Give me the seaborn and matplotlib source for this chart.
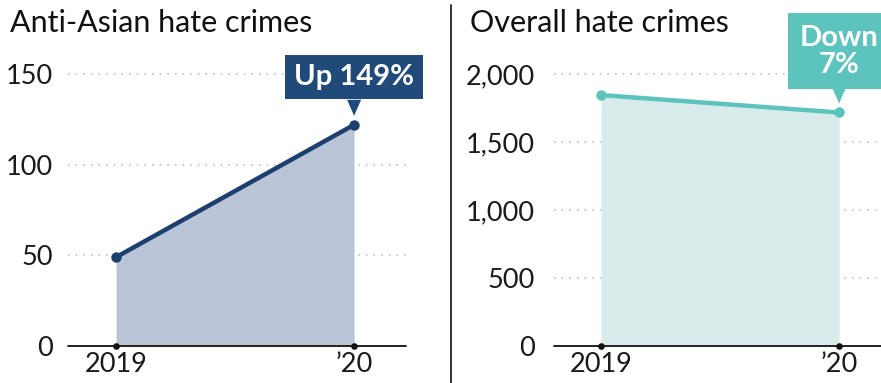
import matplotlib
matplotlib.use("Agg")
import matplotlib.pyplot as plt
import matplotlib.transforms as mtransforms
from matplotlib.patches import Polygon
import seaborn as sns
import pandas as pd

# ---- data ----
years = [2019, 2020]
year_labels = ["2019", "\u201920"]
asian_values = [49, 122]
overall_values = [1845, 1717]
asian_ticks = [0, 50, 100, 150]
overall_ticks = [0, 500, 1000, 1500, 2000]
asian_title = "Anti-Asian hate crimes"
overall_title = "Overall hate crimes"
asian_note = "Up 149%"
overall_note = "Down\n7%"

sns.set_theme(style="white")
plt.rcParams["font.family"] = ["Lato", "DejaVu Sans"]

DPI = 100
fig = plt.figure(figsize=(8.81, 3.83), dpi=DPI)

W, H = 881, 383
def ax_rect(x0, x1, y_top, y_bot):
    return [x0 / W, (H - y_bot) / H, (x1 - x0) / W, (y_bot - y_top) / H]

ax1 = fig.add_axes(ax_rect(68, 406, 74, 346))
ax2 = fig.add_axes(ax_rect(554, 881, 74, 346))

def draw_panel(ax, values, ticks, line_c, fill_c, xlim, fmt, note, note_c, note_off, pad, boxpad, lsp):
    df = pd.DataFrame({"year": years, "value": values})
    ax.fill_between(df["year"], 0, df["value"], color=fill_c, lw=0, zorder=1)
    sns.lineplot(data=df, x="year", y="value", ax=ax, color=line_c, lw=3.2,
                 marker="o", markersize=7.5, markeredgewidth=0, zorder=4, clip_on=False)
    ax.set_xlim(*xlim)
    ax.set_ylim(ticks[0], ticks[-1])
    ax.set_yticks(ticks)
    ax.set_yticklabels([fmt(t) for t in ticks], fontsize=19.5, fontweight="normal", color="#1a1a1a")
    ax.set_xticks(years)
    ax.set_xticklabels(year_labels, fontsize=19.5, fontweight="normal", color="#1a1a1a")
    ax.tick_params(axis="y", length=0, pad=pad)
    ax.tick_params(axis="x", length=0, pad=4)
    ax.set_xlabel("")
    ax.set_ylabel("")
    for s in ["top", "right", "left", "bottom"]:
        ax.spines[s].set_visible(False)
    for t in ticks[1:]:
        ax.axhline(t, color="#b5b5b5", lw=1.1, ls=(0, (1, 4)), zorder=0.5, clip_on=False)
    ax.axhline(0, color="#222222", lw=1.4, zorder=3, clip_on=False)
    ax.scatter(years, [0, 0], s=14, color="#111111", zorder=5, clip_on=False)
    ax.patch.set_alpha(0)
    # annotation box above last point
    xl, yl = years[-1], values[-1]
    ax.annotate(note, xy=(xl, yl), xytext=(0, note_off), textcoords="offset points",
                ha="center", va="bottom", fontsize=21, fontweight="bold", color="white",
                linespacing=lsp, annotation_clip=False, zorder=6,
                bbox=dict(boxstyle=f"square,pad={boxpad}", fc=note_c, ec="none"))
    trans = fig.dpi_scale_trans + mtransforms.ScaledTranslation(xl, yl, ax.transData)
    tri = Polygon([(-7 / DPI, 25 / DPI), (7 / DPI, 25 / DPI), (0, 9 / DPI)],
                  closed=True, transform=trans, fc=note_c, ec="none", zorder=6, clip_on=False)
    ax.add_patch(tri)

draw_panel(ax1, asian_values, asian_ticks, "#1c3f6e", "#b9c5d7",
           (2018.798, 2020.218), lambda t: f"{t:,}", asian_note, "#1f4a7a", 25, 11, 0.32, 1.0)
draw_panel(ax2, overall_values, overall_ticks, "#5cc3bd", "#d6ebea",
           (2018.8025, 2020.176), lambda t: f"{t:,}", overall_note, "#5cc3bd", 25, 14, 0.4, 1.05)

fig.text(10 / W, 1 - 32 / H, asian_title, fontsize=22, color="#111111", ha="left", va="baseline")
fig.text(470 / W, 1 - 32 / H, overall_title, fontsize=22, color="#111111", ha="left", va="baseline")

fig.add_artist(plt.Line2D([451 / W, 451 / W], [0, 1 - 5 / H], transform=fig.transFigure,
                          color="#222222", lw=1.3))

fig.savefig("out.png", dpi=DPI)
